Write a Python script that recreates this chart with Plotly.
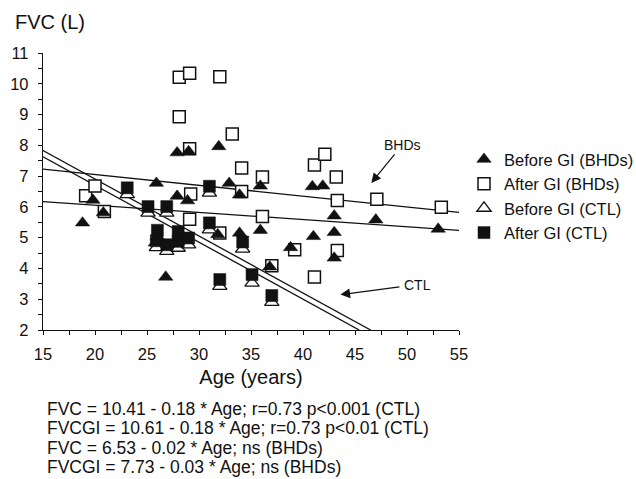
import plotly.graph_objects as go

# ---------------- data ----------------
bhd_before_age = [18.8, 19.8, 20.8, 25.9, 25.8, 26.8, 27.9, 29.0, 31.9, 27.9, 28.9, 32.9, 35.9, 33.9,
                  31.8, 33.9, 35.9, 36.8, 38.8, 40.9, 41.9, 41.0, 43.0, 43.0, 43.0, 47.0, 53.0]
bhd_before_fvc = [5.48, 6.22, 5.81, 6.77, 4.83, 3.72, 7.76, 7.80, 7.96, 6.35, 6.20, 6.77, 6.68, 6.39,
                  5.10, 5.15, 5.24, 4.05, 4.68, 6.66, 6.68, 5.04, 5.71, 5.17, 4.34, 5.58, 5.28]

bhd_after_age = [19.1, 20.0, 20.9, 28.1, 29.1, 32.0, 28.1, 33.2, 29.1, 34.1, 36.1, 29.2, 34.1,
                 29.1, 32.0, 36.1, 37.0, 39.2, 41.1, 41.1, 42.1, 43.2, 43.3, 43.3, 47.1, 53.3]
bhd_after_fvc = [6.36, 6.68, 5.85, 10.21, 10.34, 10.23, 8.93, 8.37, 7.89, 7.26, 6.97, 6.42, 6.50,
                 5.60, 5.15, 5.69, 4.09, 4.61, 3.72, 7.36, 7.71, 6.97, 6.21, 4.58, 6.25, 5.99]

ctl_age = [23.1, 25.1, 26.9, 26.0, 28.0, 25.9, 26.9, 28.0, 29.0, 31.0, 31.0, 32.0, 34.2, 35.1, 37.0]
ctl_after_fvc = [6.62, 6.01, 6.01, 5.24, 5.20, 4.90, 4.77, 4.88, 4.99, 6.67, 5.48, 3.64, 4.86, 3.80, 3.12]
ctl_before_fvc = [6.40, 5.80, 5.80, 5.02, 4.98, 4.68, 4.56, 4.66, 4.77, 6.45, 5.26, 3.42, 4.63, 3.53, 2.90]

# regression line end points
ctl_gi_line_x, ctl_gi_line_y = [15, 46.5], [7.83, 2.0]
ctl_line_x, ctl_line_y = [15, 45.4], [7.63, 2.0]
bhd_gi_line_x, bhd_gi_line_y = [15, 55], [7.23, 5.82]
bhd_line_x, bhd_line_y = [15, 55], [6.17, 5.24]

x_ticks = [15, 20, 25, 30, 35, 40, 45, 50, 55]
y_ticks = [2, 3, 4, 5, 6, 7, 8, 9, 10, 11]

legend_names = ["Before GI (BHDs)", "After GI (BHDs)", "Before GI (CTL)", "After GI (CTL)"]

equations = [
    "FVC = 10.41 - 0.18 * Age; r=0.73 p<0.001 (CTL)",
    "FVCGI = 10.61 - 0.18 * Age; r=0.73 p<0.01 (CTL)",
    "FVC = 6.53 - 0.02 * Age; ns (BHDs)",
    "FVCGI = 7.73 - 0.03 * Age; ns (BHDs)",
]

# ---------------- layout helpers ----------------
W, H = 636, 479
ML, MR, MT, MB = 43, 177, 53, 148.5
PW, PH = W - ML - MR, H - MT - MB
FONT = "Liberation Sans, Arial, Helvetica, sans-serif"
INK = "#111111"


def px_x(px):
    return (px - ML) / PW


def px_y(py):
    return (H - MB - py) / PH


fig = go.Figure()

line_style = dict(color=INK, width=1.3)
for lx, ly in [(ctl_gi_line_x, ctl_gi_line_y), (ctl_line_x, ctl_line_y),
               (bhd_gi_line_x, bhd_gi_line_y), (bhd_line_x, bhd_line_y)]:
    fig.add_trace(go.Scatter(x=lx, y=ly, mode="lines", line=line_style,
                             showlegend=False, hoverinfo="skip"))

fig.add_trace(go.Scatter(x=bhd_after_age, y=bhd_after_fvc, mode="markers", name=legend_names[1],
                         legendrank=2,
                         marker=dict(symbol="square", size=12, color="white",
                                     line=dict(color=INK, width=1.5))))
fig.add_trace(go.Scatter(x=bhd_before_age, y=bhd_before_fvc, mode="markers", name=legend_names[0],
                         legendrank=1,
                         marker=dict(symbol="triangle-up", size=12.5, color=INK,
                                     line=dict(color=INK, width=0.5))))
fig.add_trace(go.Scatter(x=ctl_age, y=ctl_before_fvc, mode="markers", name=legend_names[2],
                         legendrank=3,
                         marker=dict(symbol="triangle-up", size=12.5, color="white",
                                     line=dict(color=INK, width=1.3))))
fig.add_trace(go.Scatter(x=ctl_age, y=ctl_after_fvc, mode="markers", name=legend_names[3],
                         legendrank=4,
                         marker=dict(symbol="square", size=12, color=INK,
                                     line=dict(color=INK, width=0.5))))

annotations = [
    dict(text="FVC (L)", x=px_x(12.7), y=px_y(21.7), xref="paper", yref="paper",
         xanchor="left", yanchor="middle", showarrow=False,
         font=dict(size=20, family=FONT, color=INK)),
    dict(text="BHDs", x=46.57, y=6.78, xref="x", yref="y", ax=31, ay=-38,
         showarrow=True, arrowhead=2, arrowsize=1.6, arrowwidth=1.2, arrowcolor=INK,
         font=dict(size=14, family=FONT, color=INK)),
    dict(text="CTL", x=43.6, y=3.15, xref="x", yref="y", ax=77, ay=-10,
         showarrow=True, arrowhead=2, arrowsize=1.6, arrowwidth=1.2, arrowcolor=INK,
         borderpad=4, font=dict(size=14, family=FONT, color=INK)),
]
for i, eq in enumerate(equations):
    annotations.append(dict(text=eq, x=px_x(45), y=px_y(409.5 + 19.5 * i), xref="paper", yref="paper",
                            xanchor="left", yanchor="middle", showarrow=False,
                            font=dict(size=17.5, family=FONT, color=INK)))

fig.update_layout(
    width=W, height=H,
    margin=dict(l=ML, r=MR, t=MT, b=MB, pad=0, autoexpand=False),
    paper_bgcolor="white", plot_bgcolor="white",
    font=dict(family=FONT, color=INK),
    showlegend=True,
    legend=dict(xref="container", yref="container", x=464 / W, y=1 - 142 / H,
                xanchor="left", yanchor="top",
                font=dict(size=16.5, family=FONT, color=INK),
                bgcolor="rgba(0,0,0,0)", borderwidth=0, traceorder="normal"),
    annotations=annotations,
)

fig.update_xaxes(range=[15, 55], tickvals=x_ticks, ticks="outside", ticklen=4, tickwidth=1,
                 tickcolor=INK, showline=True, linecolor=INK, linewidth=1.3, showgrid=False,
                 zeroline=False, tickfont=dict(size=16.5, family=FONT, color=INK),
                 ticklabelstandoff=5, automargin=False,
                 minor=dict(dtick=2.5, tick0=15, ticks="outside", ticklen=4, tickcolor=INK,
                            showgrid=False),
                 title=dict(text="Age (years)", font=dict(size=20, family=FONT, color=INK),
                            standoff=8))
fig.update_yaxes(range=[2, 11], tickvals=y_ticks, ticks="outside", ticklen=4, tickwidth=1,
                 tickcolor=INK, showline=True, linecolor=INK, linewidth=1.3, showgrid=False,
                 zeroline=False, tickfont=dict(size=16.5, family=FONT, color=INK),
                 ticklabelstandoff=6, automargin=False,
                 minor=dict(dtick=0.5, tick0=2, ticks="outside", ticklen=4, tickcolor=INK,
                            showgrid=False))

fig.write_html("out.html")
